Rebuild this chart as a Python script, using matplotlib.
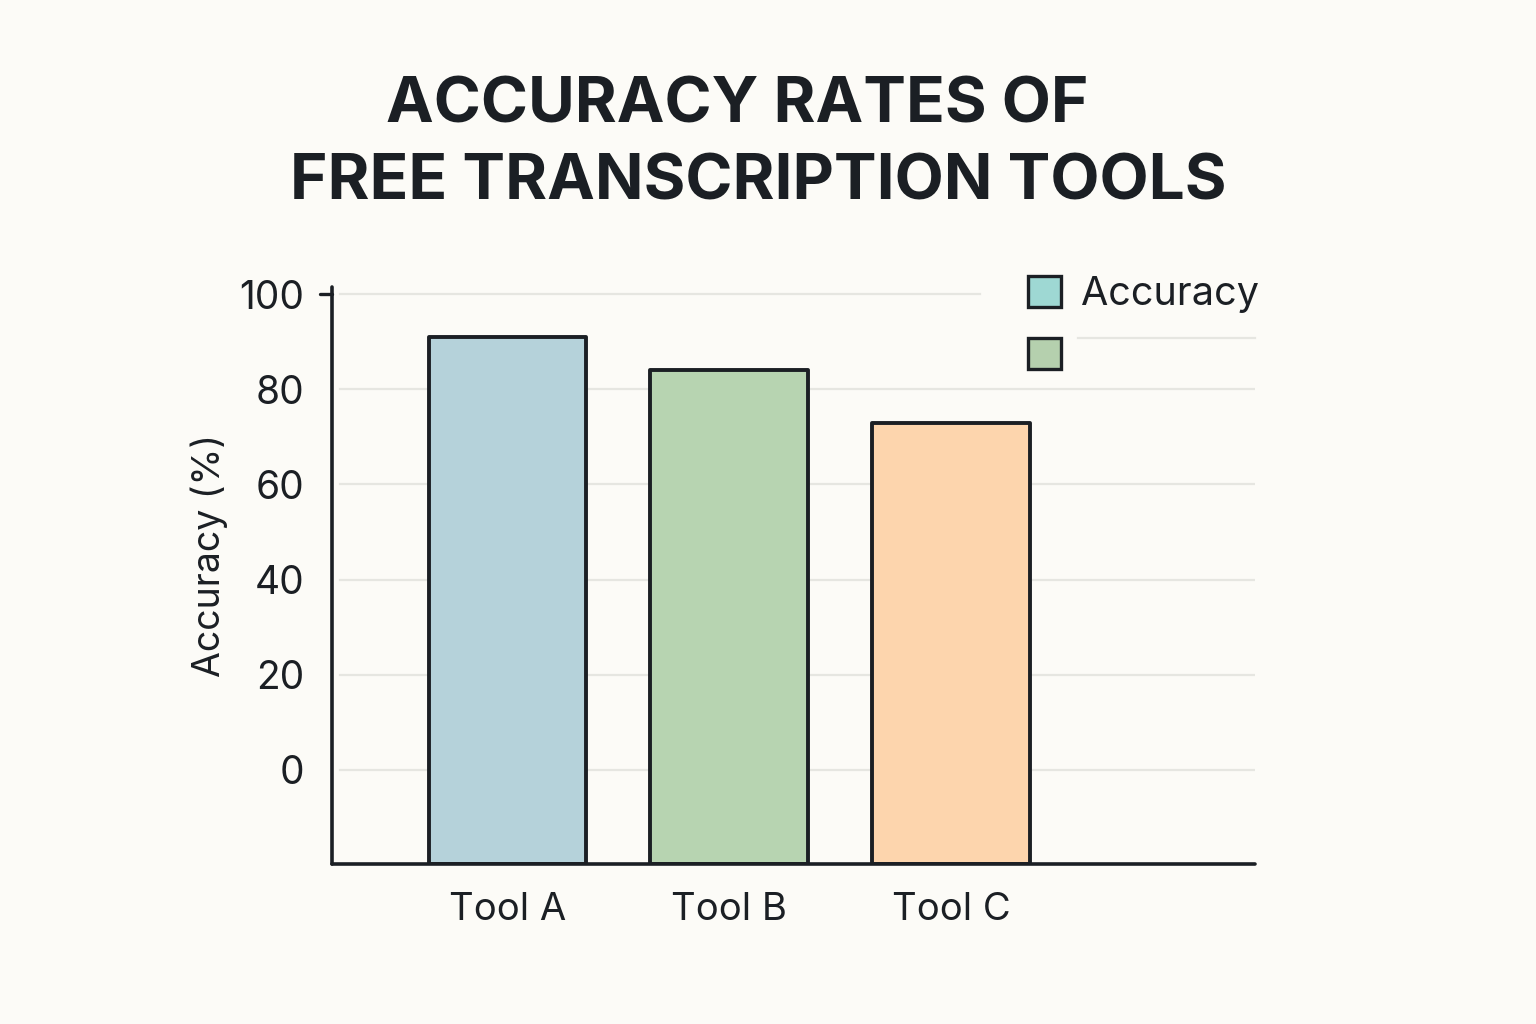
import matplotlib
matplotlib.use("Agg")
import matplotlib.pyplot as plt
from matplotlib.patches import Patch
from matplotlib.lines import Line2D
import matplotlib.transforms as mtransforms

tools = ["Tool A", "Tool B", "Tool C"]
accuracy = [91, 84, 73]
bar_colors = ["#b5d2da", "#b7d4b1", "#fdd5ad"]
yticks = [0, 20, 40, 60, 80, 100]
legend_labels = ["Accuracy", ""]
legend_colors = ["#9ed8d3", "#b5d0ae"]

W, H = 1536, 1024
bg = "#fcfbf7"
dark = "#1b1f24"

plt.rcParams['font.family'] = ['Inter', 'DejaVu Sans']

fig = plt.figure(figsize=(W / 100, H / 100), dpi=100, facecolor=bg)

ax_l, ax_r, ax_t, ax_b = 332, 1255, 287, 864
ax = fig.add_axes([ax_l / W, 1 - ax_b / H, (ax_r - ax_l) / W, (ax_b - ax_t) / H])
ax.set_facecolor(bg)

ymin, ymax = -19.8, 101.5
ax.set_ylim(ymin, ymax)
ax.set_xlim(-0.79, 3.37)

for y in yticks:
    xmax = 0.702 if y == 100 else 1.0
    ax.axhline(y, xmin=0.009, xmax=xmax, color="#e6e6e1", lw=1.6, zorder=0)

x = list(range(len(tools)))
ax.bar(x, [a - ymin for a in accuracy], bottom=ymin, width=0.71,
       color=bar_colors, edgecolor=dark, linewidth=2.8, joinstyle="round", zorder=2)

ax.set_xticks(x)
ax.set_xticklabels(tools, fontsize=27.5, color=dark)
ax.set_yticks(yticks)
ax.set_yticklabels([str(v) for v in yticks], fontsize=28, color=dark)
ax.tick_params(axis="both", length=0)
ax.tick_params(axis="x", pad=20)
ax.tick_params(axis="y", pad=20)

# small hook tick at the top value
trans = mtransforms.blended_transform_factory(ax.transAxes, ax.transData)
ax.plot([-0.013, 0], [100, 100], transform=trans, color=dark, lw=2.4,
        solid_capstyle="round", clip_on=False, zorder=3)

for s in ["top", "right"]:
    ax.spines[s].set_visible(False)
for s in ["left", "bottom"]:
    ax.spines[s].set_color(dark)
    ax.spines[s].set_linewidth(2.6)
    ax.spines[s].set_capstyle("round")

ax.set_ylabel("Accuracy (%)", fontsize=27, color=dark)
ax.yaxis.set_label_coords((228 - ax_l) / (ax_r - ax_l), (ax_b - 555) / (ax_b - ax_t))

handles = [Patch(facecolor=c, edgecolor=dark, linewidth=2.4, joinstyle="round")
           for c in legend_colors]
leg = fig.legend(handles, legend_labels, loc="upper left",
                 bbox_to_anchor=(992 / W, 1 - 240 / H), frameon=False,
                 fontsize=28.5, handlelength=0.85, handleheight=0.85,
                 handletextpad=0.5, labelspacing=0.62, labelcolor=dark)
fig.add_artist(Line2D([1078 / W, 1255 / W], [1 - 338 / H, 1 - 338 / H],
                      color="#e6e6e1", lw=1.6))

fig.text(737 / W, 1 - 106 / H, "ACCURACY RATES OF", ha="center", va="center",
         fontsize=46, fontweight="bold", color=dark)
fig.text(758 / W, 1 - 183 / H, "FREE TRANSCRIPTION TOOLS", ha="center", va="center",
         fontsize=46, fontweight="bold", color=dark)

fig.savefig("out.png", dpi=100, facecolor=bg)
